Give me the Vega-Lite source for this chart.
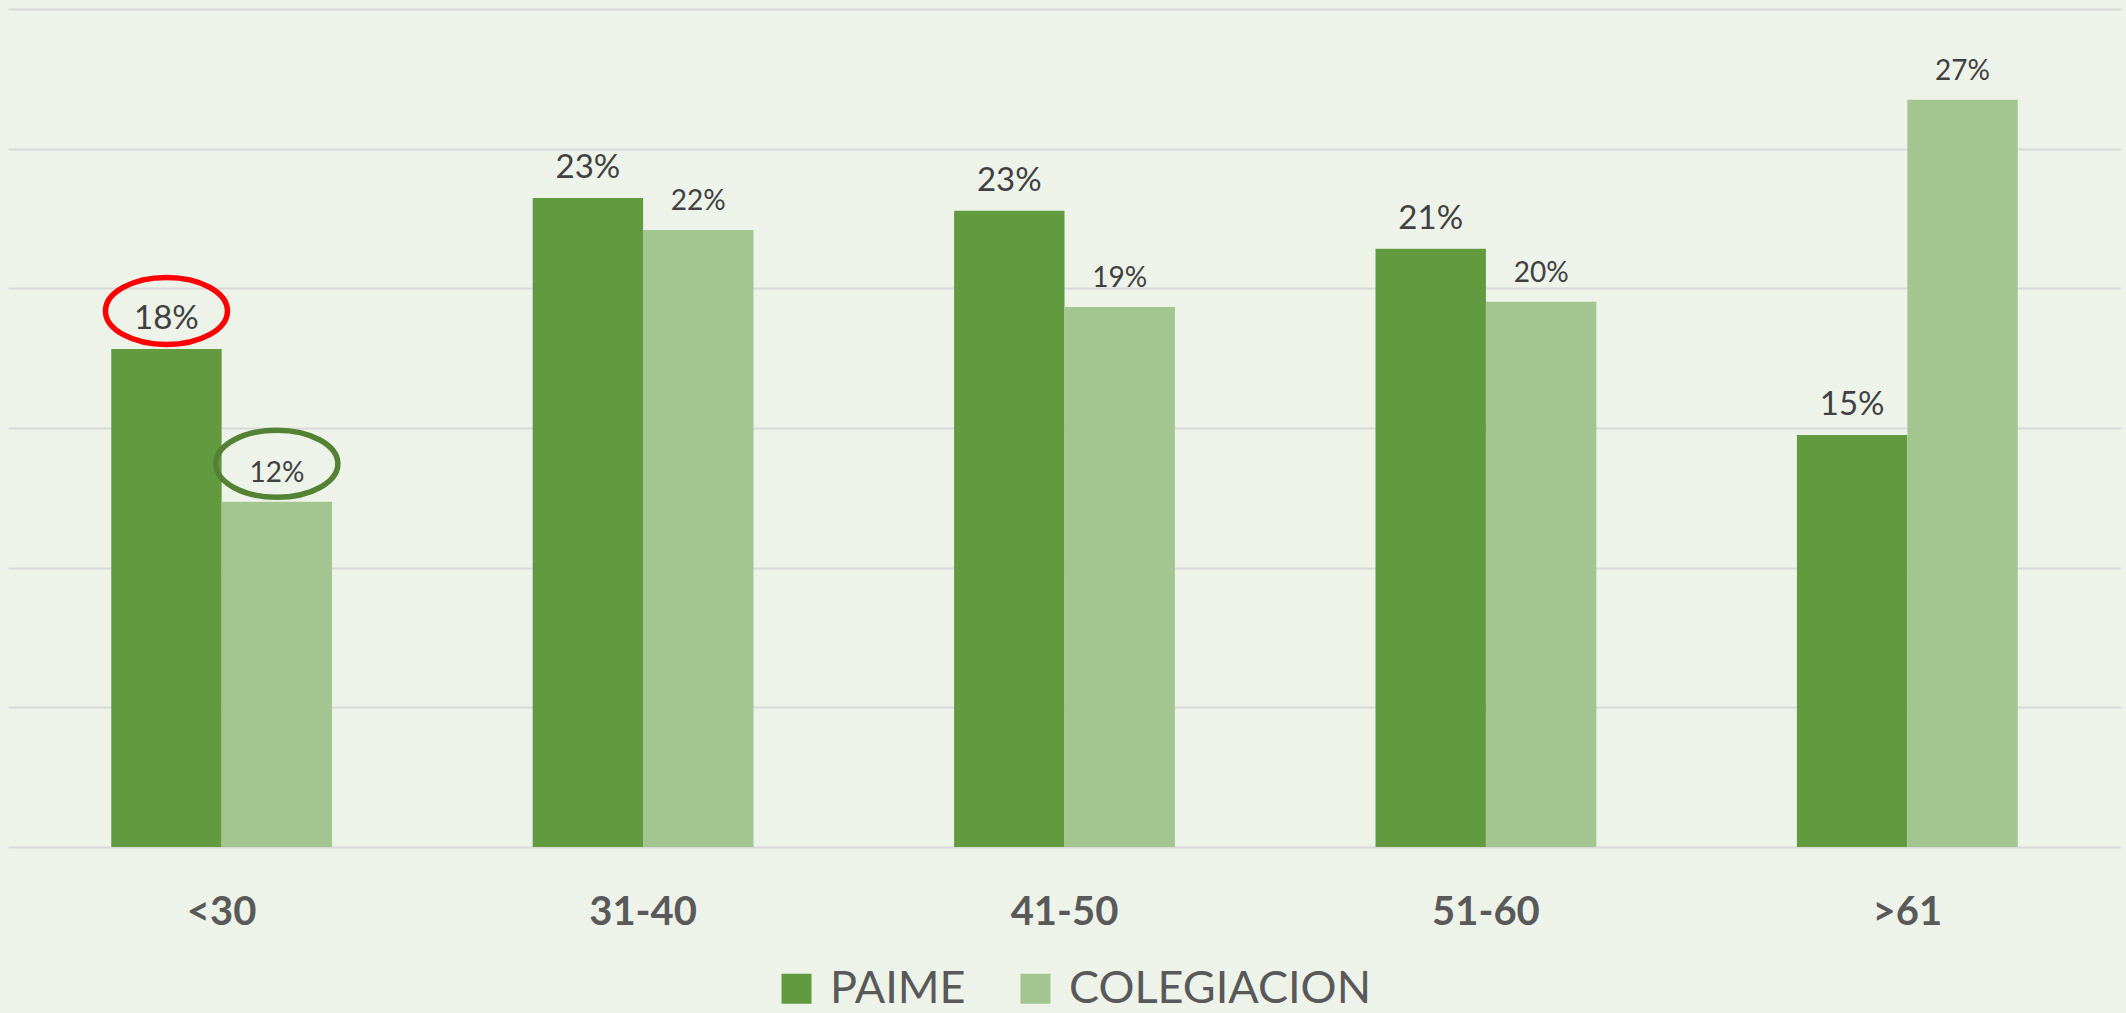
{
  "$schema": "https://vega.github.io/schema/vega-lite/v6.json",
  "width": 2113,
  "height": 838,
  "autosize": {"type": "none"},
  "padding": {"left": 8, "top": 9, "right": 5, "bottom": 166},
  "background": "#eef3ea",
  "config": {"view": {"stroke": null}, "font": "Lato"},
  "data": {
    "values": [
      {"edad": "<30", "serie": "PAIME", "valor": 0.1783},
      {"edad": "<30", "serie": "COLEGIACION", "valor": 0.1236},
      {"edad": "31-40", "serie": "PAIME", "valor": 0.2323},
      {"edad": "31-40", "serie": "COLEGIACION", "valor": 0.2209},
      {"edad": "41-50", "serie": "PAIME", "valor": 0.2278},
      {"edad": "41-50", "serie": "COLEGIACION", "valor": 0.1933},
      {"edad": "51-60", "serie": "PAIME", "valor": 0.2142},
      {"edad": "51-60", "serie": "COLEGIACION", "valor": 0.1952},
      {"edad": ">61", "serie": "PAIME", "valor": 0.1475},
      {"edad": ">61", "serie": "COLEGIACION", "valor": 0.2675}
    ]
  },
  "encoding": {
    "x": {
      "field": "edad",
      "type": "nominal",
      "sort": ["<30", "31-40", "41-50", "51-60", ">61"],
      "scale": {"paddingInner": 0.476, "paddingOuter": 0.245},
      "axis": {
        "title": null,
        "labelAngle": 0,
        "labelFontSize": 40,
        "labelFontWeight": "bold",
        "labelColor": "#595959",
        "labelFont": "Lato",
        "ticks": false,
        "tickSize": 0,
        "domain": false,
        "labelPadding": 45
      }
    },
    "xOffset": {
      "field": "serie",
      "type": "nominal",
      "sort": ["PAIME", "COLEGIACION"],
      "scale": {"paddingInner": 0, "paddingOuter": 0}
    },
    "y": {
      "field": "valor",
      "type": "quantitative",
      "scale": {"domain": [0, 0.3], "nice": false},
      "axis": {
        "title": null,
        "labels": false,
        "ticks": false,
        "domain": false,
        "grid": true,
        "gridColor": "#d9d9d9",
        "gridWidth": 2,
        "values": [0, 0.05, 0.1, 0.15, 0.2, 0.25, 0.3]
      }
    }
  },
  "layer": [
    {
      "mark": {"type": "bar"},
      "encoding": {
        "color": {
          "field": "serie",
          "type": "nominal",
          "sort": ["PAIME", "COLEGIACION"],
          "scale": {"domain": ["PAIME", "COLEGIACION"], "range": ["#629a3f", "#a3c590"]},
          "legend": {
            "title": null,
            "orient": "none",
            "direction": "horizontal",
            "legendX": 766,
            "legendY": 957,
            "symbolType": "square",
            "symbolSize": 900,
            "symbolStrokeWidth": 0,
            "symbolOpacity": 1,
            "labelFontSize": 45,
            "labelFont": "Lato",
            "labelColor": "#595959",
            "labelOffset": 11,
            "columnPadding": 47,
            "labelLimit": 0
          }
        }
      }
    },
    {
      "mark": {"type": "text", "dy": -20, "baseline": "alphabetic", "color": "#404040", "font": "Lato"},
      "encoding": {
        "text": {"field": "valor", "type": "quantitative", "format": ".0%"},
        "size": {"condition": {"test": "datum.serie === 'PAIME'", "value": 33}, "value": 28}
      }
    },
    {
      "transform": [{"filter": "datum.edad === '<30'"}],
      "mark": {
        "type": "point",
        "shape": "M-1,0A1,0.55,0,1,1,1,0A1,0.55,0,1,1,-1,0Z",
        "filled": false,
        "size": 14884,
        "strokeWidth": 5.5,
        "opacity": 1,
        "yOffset": -38
      },
      "encoding": {
        "stroke": {"condition": {"test": "datum.serie === 'PAIME'", "value": "#ff0000"}, "value": "#548235"}
      }
    }
  ]
}
